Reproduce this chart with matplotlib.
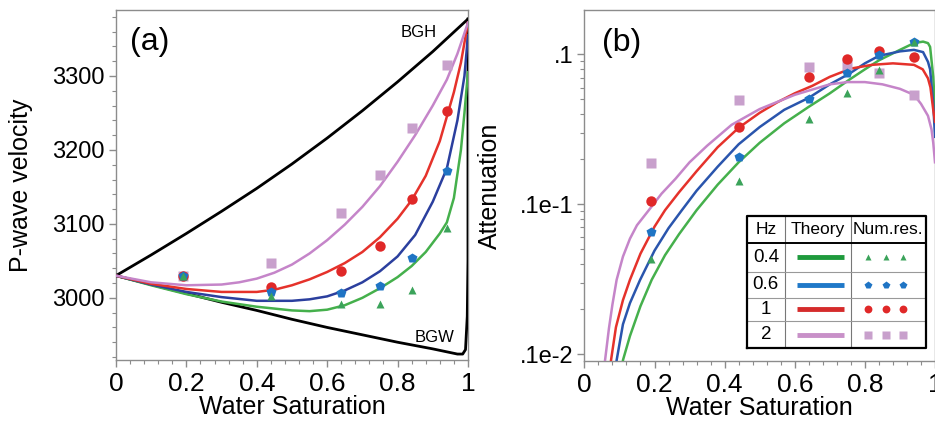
import numpy as np
import matplotlib.pyplot as plt
from matplotlib.ticker import MultipleLocator, FixedLocator, LogLocator, NullFormatter

plt.rcParams['font.family'] = ['Liberation Sans', 'DejaVu Sans']

# ─────────────────────────
# DATA
# ─────────────────────────
# (a) bounds
sw_bgh = [0, 0.1, 0.2, 0.3, 0.4, 0.5, 0.6, 0.7, 0.8, 0.9, 1.0]
vp_bgh = [3030, 3058, 3087, 3117, 3148, 3181, 3216, 3253, 3292, 3333, 3377]
sw_bgw = [0, 0.1, 0.2, 0.3, 0.4, 0.5, 0.6, 0.7, 0.8, 0.9, 0.94, 0.97, 0.985,
          0.993, 0.998, 1.0, 1.0]
vp_bgw = [3030, 3018, 3006, 2994, 2983, 2971, 2960, 2950, 2940, 2931, 2927,
          2924, 2924, 2930, 2975, 3050, 3377]

# (a) theory curves
sw_a_04 = [0, 0.1, 0.2, 0.3, 0.4, 0.5, 0.55, 0.6, 0.65, 0.7, 0.75, 0.8, 0.84,
           0.88, 0.92, 0.94, 0.96, 0.98, 0.99, 1.0]
vp_a_04 = [3030, 3017, 3005, 2995, 2988, 2983, 2982, 2984, 2990, 3000, 3013,
           3028, 3043, 3062, 3087, 3102, 3135, 3200, 3250, 3305]
sw_a_06 = [0, 0.1, 0.2, 0.3, 0.4, 0.5, 0.55, 0.6, 0.65, 0.7, 0.75, 0.8, 0.85,
           0.9, 0.94, 0.97, 0.99, 1.0]
vp_a_06 = [3030, 3018, 3008, 3001, 2996, 2996, 2998, 3002, 3010, 3021, 3036,
           3056, 3085, 3130, 3175, 3240, 3300, 3355]
sw_a_1 = [0, 0.1, 0.2, 0.3, 0.4, 0.45, 0.5, 0.55, 0.6, 0.65, 0.7, 0.75, 0.8,
          0.84, 0.88, 0.92, 0.94, 0.96, 0.98, 1.0]
vp_a_1 = [3030, 3019, 3012, 3008, 3008, 3011, 3017, 3025, 3035, 3047, 3062,
          3082, 3107, 3132, 3165, 3212, 3245, 3278, 3318, 3372]
sw_a_2 = [0, 0.1, 0.2, 0.3, 0.35, 0.4, 0.45, 0.5, 0.55, 0.6, 0.65, 0.7, 0.75,
          0.8, 0.85, 0.9, 0.94, 0.97, 1.0]
vp_a_2 = [3030, 3021, 3017, 3018, 3021, 3026, 3034, 3045, 3060, 3078, 3099,
          3123, 3151, 3184, 3220, 3260, 3295, 3330, 3372]

# numerical results (both panels)
sw_pts = [0.19, 0.44, 0.64, 0.75, 0.84, 0.94]
vp_pts_04 = [3030, 3003, 2992, 2992, 3010, 3094]
vp_pts_06 = [3030, 3008, 3006, 3016, 3054, 3172]
vp_pts_1 = [3030, 3015, 3036, 3070, 3133, 3252]
vp_pts_2 = [3030, 3047, 3115, 3166, 3229, 3315]

# (b) theory curves
sw_b_04 = [0.105, 0.11, 0.13, 0.16, 0.192, 0.23, 0.27, 0.32, 0.38, 0.44, 0.5,
           0.57, 0.64, 0.7, 0.755, 0.8, 0.84, 0.9, 0.94, 0.966, 0.98, 0.986,
           0.995, 1.0]
at_b_04 = [0.00063, 0.00091, 0.00132, 0.00209, 0.00313, 0.00457, 0.00631,
           0.00912, 0.01349, 0.01905, 0.02570, 0.03467, 0.04467, 0.05495,
           0.06761, 0.07943, 0.09120, 0.10715, 0.11885, 0.12162, 0.11885,
           0.11220, 0.07079, 0.04266]
sw_b_06 = [0.085, 0.092, 0.11, 0.13, 0.159, 0.2, 0.24, 0.278, 0.32, 0.38, 0.44,
           0.5, 0.57, 0.64, 0.7, 0.755, 0.8, 0.84, 0.9, 0.94, 0.966, 0.98,
           0.986, 0.995, 1.0]
at_b_06 = [0.00063, 0.00091, 0.00158, 0.00219, 0.00313, 0.00490, 0.00692,
           0.00912, 0.01230, 0.01778, 0.02512, 0.03273, 0.04266, 0.05129,
           0.06310, 0.07413, 0.08710, 0.09772, 0.10471, 0.10715, 0.10351,
           0.08913, 0.07943, 0.04677, 0.02818]
sw_b_1 = [0.07, 0.076, 0.09, 0.11, 0.13, 0.16, 0.2, 0.23, 0.27, 0.32, 0.38,
          0.44, 0.5, 0.55, 0.6, 0.65, 0.7, 0.76, 0.82, 0.88, 0.94, 0.965, 0.98,
          0.987, 0.995, 1.0]
at_b_1 = [0.00063, 0.00091, 0.00151, 0.00229, 0.00313, 0.00468, 0.00708,
          0.00912, 0.01202, 0.01660, 0.02399, 0.03236, 0.04074, 0.04786,
          0.05495, 0.06166, 0.07079, 0.08035, 0.08511, 0.08710, 0.08511,
          0.07943, 0.06918, 0.06026, 0.04266, 0.03548]
sw_b_2 = [0.05, 0.059, 0.07, 0.08, 0.092, 0.11, 0.13, 0.15, 0.187, 0.22, 0.26,
          0.3, 0.35, 0.42, 0.5, 0.6, 0.7, 0.75, 0.8, 0.85, 0.9, 0.94, 0.96,
          0.98, 0.99, 0.995, 1.0]
at_b_2 = [0.00063, 0.00091, 0.00148, 0.00214, 0.00313, 0.00447, 0.00589,
          0.00724, 0.00933, 0.01175, 0.01479, 0.01905, 0.02455, 0.03388,
          0.04315, 0.05370, 0.06310, 0.06531, 0.06531, 0.06310, 0.05888,
          0.05370, 0.04677, 0.03890, 0.03162, 0.02570, 0.01905]

at_pts_04 = [0.00429, 0.0143, 0.0373, 0.0550, 0.0786, 0.1216]
at_pts_06 = [0.00649, 0.0207, 0.0506, 0.0747, 0.0990, 0.1216]
at_pts_1 = [0.01055, 0.0329, 0.0703, 0.0926, 0.1057, 0.0965]
at_pts_2 = [0.0189, 0.0496, 0.0819, 0.0850, 0.0755, 0.0532]

freq_labels = ['0.4', '0.6', '1', '2']
x_ticks = [0, 0.2, 0.4, 0.6, 0.8, 1.0]
x_tick_labels = ['0', '0.2', '0.4', '0.6', '0.8', '1']

# styles
line_a = ['#45b04c', '#2b3f9e', '#e5322b', '#c585c9']
line_b = ['#45b04c', '#2a55ad', '#e5322b', '#c585c9']
mk_col = ['#3ba35a', '#1f74c4', '#e02828', '#c8a0cc']
mk_shape = ['^', 'p', 'o', 's']
mk_size = [6, 7.5, 7.5, 7]
leg_line = ['#1e9a3c', '#1f78c8', '#d52b2b', '#c890c8']

GRAY = '#8c8c8c'

fig = plt.figure(figsize=(9.35, 4.23), dpi=100)
ax1 = fig.add_axes([0.124, 0.149, 0.3765, 0.827])
ax2 = fig.add_axes([0.625, 0.147, 0.375, 0.829])


def style_axes(ax):
    for sp in ax.spines.values():
        sp.set_color(GRAY)
        sp.set_linewidth(1.0)
    ax.tick_params(which='both', direction='out', color=GRAY, labelsize=17,
                   pad=3)
    ax.tick_params(which='major', length=5, width=1)
    ax.tick_params(which='minor', length=3, width=0.8)
    ax.tick_params(axis='x', labelsize=19, pad=4)
    ax.set_xlim(0, 1)
    ax.xaxis.set_major_locator(FixedLocator(x_ticks))
    ax.xaxis.set_minor_locator(MultipleLocator(0.04))
    ax.set_xticklabels(x_tick_labels)
    ax.set_xlabel('Water Saturation', fontsize=18)
    ax.xaxis.set_label_coords(0.5, -0.1)


# ─────────────────────────
# PANEL (a)
# ─────────────────────────
curves_a = [(sw_a_04, vp_a_04), (sw_a_06, vp_a_06), (sw_a_1, vp_a_1), (sw_a_2, vp_a_2)]
pts_a = [vp_pts_04, vp_pts_06, vp_pts_1, vp_pts_2]

ax1.plot(sw_bgh, vp_bgh, color='black', lw=2.0, zorder=3)
ax1.plot(sw_bgw, vp_bgw, color='black', lw=2.0, zorder=3)
for i, (sw, vp) in enumerate(curves_a):
    ax1.plot(sw, vp, color=line_a[i], lw=1.8, zorder=3)
for i in [3, 2, 1, 0]:
    ax1.plot(sw_pts, pts_a[i], ls='none', marker=mk_shape[i], ms=mk_size[i],
             color=mk_col[i], mec='none', zorder=4)

style_axes(ax1)
ax1.set_ylim(2916, 3389)
ax1.yaxis.set_major_locator(MultipleLocator(100))
ax1.yaxis.set_minor_locator(MultipleLocator(20))
ax1.set_ylabel('P-wave velocity', fontsize=18)
ax1.yaxis.set_label_coords(-0.235, 0.5)
ax1.text(0.04, 0.91, '(a)', transform=ax1.transAxes, fontsize=23,
         va='center', ha='left')
ax1.text(0.912, 3359, 'BGH', fontsize=12, ha='right', va='center')
ax1.text(0.963, 2946, 'BGW', fontsize=12, ha='right', va='center')

# ─────────────────────────
# PANEL (b)
# ─────────────────────────
curves_b = [(sw_b_04, at_b_04), (sw_b_06, at_b_06), (sw_b_1, at_b_1), (sw_b_2, at_b_2)]
pts_b = [at_pts_04, at_pts_06, at_pts_1, at_pts_2]

ax2.set_yscale('log')
for i, (sw, at) in enumerate(curves_b):
    ax2.plot(sw, at, color=line_b[i], lw=1.8, zorder=3)
for i in [3, 2, 1, 0]:
    ax2.plot(sw_pts, pts_b[i], ls='none', marker=mk_shape[i], ms=mk_size[i],
             color=mk_col[i], mec='none', zorder=4)

style_axes(ax2)
ax2.set_ylim(10 ** -3.045, 10 ** -0.705)
ax2.yaxis.set_major_locator(FixedLocator([1e-3, 1e-2, 1e-1]))
ax2.set_yticklabels(['.1e-2', '.1e-1', '.1'])
ax2.yaxis.set_minor_locator(LogLocator(base=10, subs=np.arange(2, 10)))
ax2.yaxis.set_minor_formatter(NullFormatter())
ax2.set_ylabel('Attenuation', fontsize=18)
ax2.yaxis.set_label_coords(-0.235, 0.5)
ax2.text(0.05, 0.905, '(b)', transform=ax2.transAxes, fontsize=23,
         va='center', ha='left')

# ─────────────────────────
# LEGEND TABLE
# ─────────────────────────
lg = fig.add_axes([0.799, 0.1766, 0.191, 0.3128])
lg.set_xlim(0, 1)
lg.set_ylim(0, 1)
lg.axis('off')
lg.add_patch(plt.Rectangle((0, 0), 1, 1, facecolor='white', edgecolor='none', zorder=0))
col_x = [0, 0.211, 0.581, 1]
row_y = [1, 0.794, 0.579, 0.382, 0.206, 0]
for x in col_x[1:-1]:
    lg.plot([x, x], [0, 1], color='#777777', lw=0.8)
for y in row_y[2:-1]:
    lg.plot([0, 1], [y, y], color='#999999', lw=0.8)
lg.plot([0, 1, 1, 0, 0], [0, 0, 1, 1, 0], color='black', lw=1.6, clip_on=False)
lg.plot([0, 1], [row_y[1], row_y[1]], color='black', lw=1.4)

lg.text(0.105, 0.897, 'Hz', ha='center', va='center', fontsize=12.5)
lg.text(0.396, 0.897, 'Theory', ha='center', va='center', fontsize=12.5)
lg.text(0.79, 0.897, 'Num.res.', ha='center', va='center', fontsize=12.5)
for i, lab in enumerate(freq_labels):
    yc = (row_y[i + 1] + row_y[i + 2]) / 2
    lg.text(0.105, yc, lab, ha='center', va='center', fontsize=13.5)
    lg.plot([0.282, 0.543], [yc, yc], color=leg_line[i], lw=3.5,
            solid_capstyle='butt')
    lg.plot([0.676, 0.778, 0.872], [yc] * 3, ls='none', marker=mk_shape[i],
            ms=mk_size[i] * 0.75, color=mk_col[i], mec='none')

fig.savefig('out.png', dpi=100)
